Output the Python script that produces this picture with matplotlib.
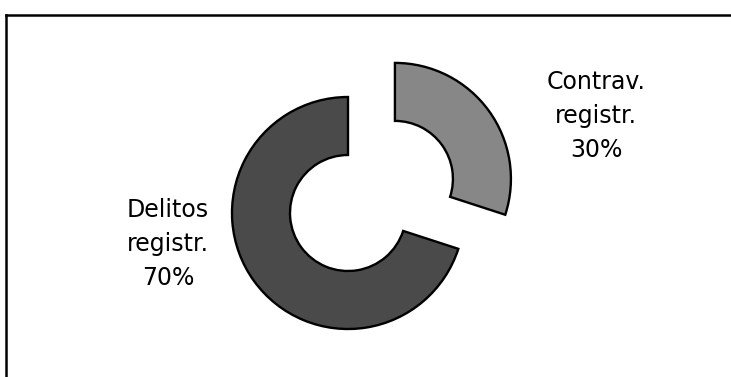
import matplotlib
matplotlib.use('Agg')
import matplotlib.pyplot as plt
from matplotlib.lines import Line2D

# Share of registered offences
categories = ['Delitos\nregistr.', 'Contrav.\nregistr.']
shares = [70, 30]
colors = ['#4a4a4a', '#878787']
explode_frac = [0.0, 0.5]

W, H = 731, 377
fig = plt.figure(figsize=(W / 100, H / 100), dpi=100)
ax = fig.add_axes([0, 0, 1, 1])

# work in pixel units, y pointing up
cx, cy, radius = 348, H - 213, 116
ax.pie(shares, colors=colors, startangle=90, counterclock=True,
       center=(cx, cy), radius=radius,
       explode=[e * radius for e in explode_frac],
       wedgeprops=dict(width=radius * 0.5, edgecolor='black', linewidth=1.7))

ax.set_xlim(0, W)
ax.set_ylim(0, H)
ax.set_aspect('equal')
ax.axis('off')

label_pos = [(168, H - 244), (596, H - 116)]
for name, pct, (lx, ly) in zip(categories, shares, label_pos):
    ax.text(lx, ly, f"{name}\n{pct}%", ha='center', va='center',
            fontsize=17, linespacing=1.53, family='DejaVu Sans')

# chart frame: top and left edges
fig.add_artist(Line2D([6 / W, 1.0], [1 - 15 / H, 1 - 15 / H],
                      transform=fig.transFigure, color='black', lw=1.8))
fig.add_artist(Line2D([6 / W, 6 / W], [0, 1 - 15 / H],
                      transform=fig.transFigure, color='black', lw=1.8))

fig.savefig('out.png', dpi=100, facecolor='white')
